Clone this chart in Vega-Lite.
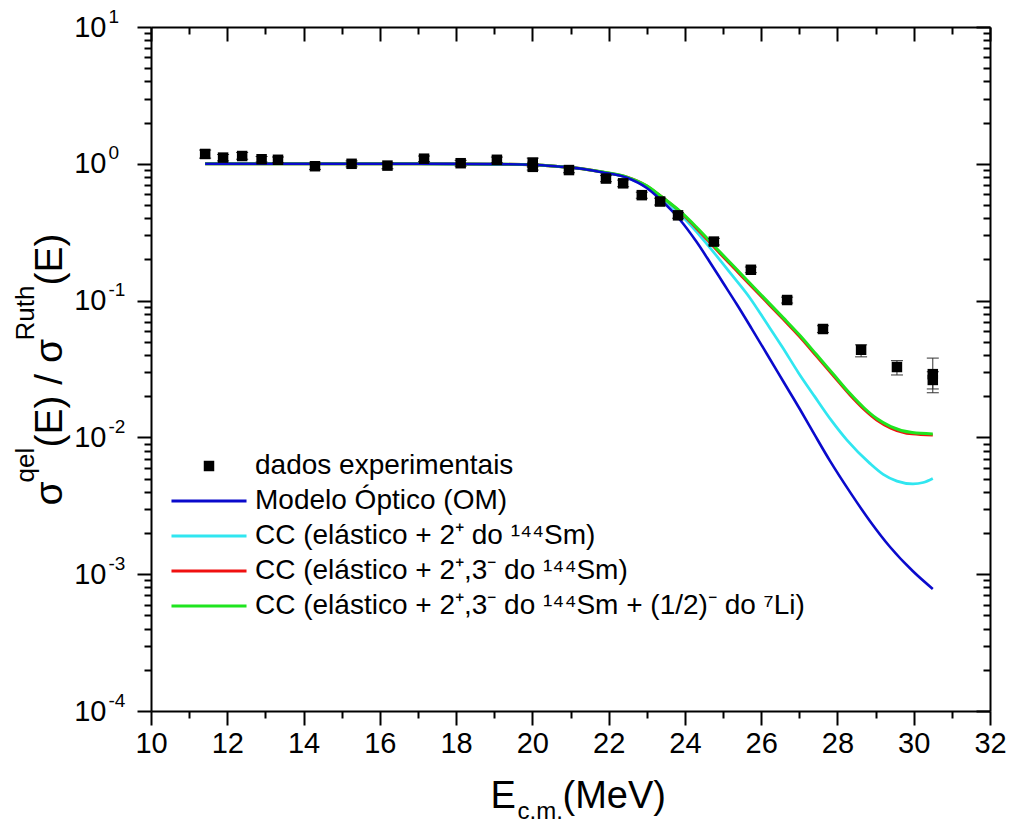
{
  "$schema": "https://vega.github.io/schema/vega-lite/v6.json",
  "width": 839,
  "height": 684,
  "autosize": {"type": "none"},
  "padding": {"left": 151, "top": 27, "right": 23, "bottom": 114},
  "background": "white",
  "config": {
    "view": {"stroke": null},
    "font": "Liberation Sans",
    "axis": {
      "grid": false,
      "domainColor": "black",
      "domainWidth": 2,
      "tickColor": "black",
      "tickWidth": 2,
      "labelFont": "Liberation Sans",
      "labelColor": "black",
      "labelFlush": false,
      "labelOverlap": false,
      "labelBound": false,
      "titleFont": "Liberation Sans",
      "titleFontWeight": "normal",
      "titleColor": "black"
    }
  },
  "datasets": {
    "curves": [
      {"series": "CC2", "E": 11.42, "v": 1.0},
      {"series": "CC2", "E": 13, "v": 1.0},
      {"series": "CC2", "E": 15, "v": 1.0},
      {"series": "CC2", "E": 17, "v": 1.0},
      {"series": "CC2", "E": 18, "v": 0.998},
      {"series": "CC2", "E": 19, "v": 0.994},
      {"series": "CC2", "E": 20, "v": 0.985},
      {"series": "CC2", "E": 20.7, "v": 0.955},
      {"series": "CC2", "E": 21.3, "v": 0.92},
      {"series": "CC2", "E": 21.85, "v": 0.868},
      {"series": "CC2", "E": 22.48, "v": 0.795},
      {"series": "CC2", "E": 23.0, "v": 0.675},
      {"series": "CC2", "E": 23.35, "v": 0.575},
      {"series": "CC2", "E": 23.87, "v": 0.43},
      {"series": "CC2", "E": 24.3, "v": 0.32},
      {"series": "CC2", "E": 24.66, "v": 0.243},
      {"series": "CC2", "E": 25.23, "v": 0.154},
      {"series": "CC2", "E": 25.7, "v": 0.105},
      {"series": "CC2", "E": 26.12, "v": 0.07},
      {"series": "CC2", "E": 26.55, "v": 0.046},
      {"series": "CC2", "E": 26.98, "v": 0.0296},
      {"series": "CC2", "E": 27.4, "v": 0.01995},
      {"series": "CC2", "E": 27.85, "v": 0.0132},
      {"series": "CC2", "E": 28.25, "v": 0.00955},
      {"series": "CC2", "E": 28.85, "v": 0.00646},
      {"series": "CC2", "E": 29.2, "v": 0.00537},
      {"series": "CC2", "E": 29.56, "v": 0.00479},
      {"series": "CC2", "E": 29.98, "v": 0.00457},
      {"series": "CC2", "E": 30.25, "v": 0.00468},
      {"series": "CC2", "E": 30.5, "v": 0.00501},

      {"series": "CC23", "E": 11.42, "v": 1.0},
      {"series": "CC23", "E": 13, "v": 1.0},
      {"series": "CC23", "E": 15, "v": 1.0},
      {"series": "CC23", "E": 17, "v": 1.0},
      {"series": "CC23", "E": 18, "v": 0.998},
      {"series": "CC23", "E": 19, "v": 0.994},
      {"series": "CC23", "E": 20, "v": 0.985},
      {"series": "CC23", "E": 20.7, "v": 0.955},
      {"series": "CC23", "E": 21.3, "v": 0.92},
      {"series": "CC23", "E": 21.85, "v": 0.87},
      {"series": "CC23", "E": 22.48, "v": 0.8},
      {"series": "CC23", "E": 23.0, "v": 0.69},
      {"series": "CC23", "E": 23.35, "v": 0.585},
      {"series": "CC23", "E": 23.87, "v": 0.447},
      {"series": "CC23", "E": 24.3, "v": 0.338},
      {"series": "CC23", "E": 24.92, "v": 0.221},
      {"series": "CC23", "E": 25.3, "v": 0.1715},
      {"series": "CC23", "E": 25.7, "v": 0.131},
      {"series": "CC23", "E": 26.1, "v": 0.1004},
      {"series": "CC23", "E": 26.58, "v": 0.0729},
      {"series": "CC23", "E": 27.0, "v": 0.0548},
      {"series": "CC23", "E": 27.45, "v": 0.0393},
      {"series": "CC23", "E": 27.9, "v": 0.0281},
      {"series": "CC23", "E": 28.33, "v": 0.0204},
      {"series": "CC23", "E": 28.7, "v": 0.016},
      {"series": "CC23", "E": 29.03, "v": 0.0134},
      {"series": "CC23", "E": 29.4, "v": 0.0117},
      {"series": "CC23", "E": 29.96, "v": 0.0106},
      {"series": "CC23", "E": 30.5, "v": 0.0104},

      {"series": "CC23Li", "E": 11.42, "v": 1.0},
      {"series": "CC23Li", "E": 13, "v": 1.0},
      {"series": "CC23Li", "E": 15, "v": 1.0},
      {"series": "CC23Li", "E": 17, "v": 1.0},
      {"series": "CC23Li", "E": 18, "v": 0.998},
      {"series": "CC23Li", "E": 19, "v": 0.994},
      {"series": "CC23Li", "E": 20, "v": 0.985},
      {"series": "CC23Li", "E": 20.7, "v": 0.955},
      {"series": "CC23Li", "E": 21.3, "v": 0.92},
      {"series": "CC23Li", "E": 21.85, "v": 0.87},
      {"series": "CC23Li", "E": 22.48, "v": 0.8},
      {"series": "CC23Li", "E": 23.0, "v": 0.69},
      {"series": "CC23Li", "E": 23.35, "v": 0.585},
      {"series": "CC23Li", "E": 23.87, "v": 0.45},
      {"series": "CC23Li", "E": 24.3, "v": 0.345},
      {"series": "CC23Li", "E": 24.92, "v": 0.2265},
      {"series": "CC23Li", "E": 25.3, "v": 0.176},
      {"series": "CC23Li", "E": 25.7, "v": 0.1346},
      {"series": "CC23Li", "E": 26.1, "v": 0.103},
      {"series": "CC23Li", "E": 26.58, "v": 0.0748},
      {"series": "CC23Li", "E": 27.0, "v": 0.0562},
      {"series": "CC23Li", "E": 27.45, "v": 0.0403},
      {"series": "CC23Li", "E": 27.9, "v": 0.0288},
      {"series": "CC23Li", "E": 28.33, "v": 0.0209},
      {"series": "CC23Li", "E": 28.7, "v": 0.0164},
      {"series": "CC23Li", "E": 29.03, "v": 0.01374},
      {"series": "CC23Li", "E": 29.4, "v": 0.012},
      {"series": "CC23Li", "E": 29.96, "v": 0.01084},
      {"series": "CC23Li", "E": 30.5, "v": 0.0106},

      {"series": "OM", "E": 11.42, "v": 1.0},
      {"series": "OM", "E": 13, "v": 1.0},
      {"series": "OM", "E": 15, "v": 1.0},
      {"series": "OM", "E": 17, "v": 1.0},
      {"series": "OM", "E": 18, "v": 0.998},
      {"series": "OM", "E": 19, "v": 0.994},
      {"series": "OM", "E": 20, "v": 0.985},
      {"series": "OM", "E": 20.7, "v": 0.955},
      {"series": "OM", "E": 21.3, "v": 0.92},
      {"series": "OM", "E": 21.85, "v": 0.865},
      {"series": "OM", "E": 22.48, "v": 0.79},
      {"series": "OM", "E": 23.0, "v": 0.665},
      {"series": "OM", "E": 23.35, "v": 0.55},
      {"series": "OM", "E": 23.87, "v": 0.39},
      {"series": "OM", "E": 24.3, "v": 0.27},
      {"series": "OM", "E": 24.66, "v": 0.19},
      {"series": "OM", "E": 25.0, "v": 0.135},
      {"series": "OM", "E": 25.36, "v": 0.094},
      {"series": "OM", "E": 25.75, "v": 0.0624},
      {"series": "OM", "E": 26.15, "v": 0.0407},
      {"series": "OM", "E": 26.6, "v": 0.0251},
      {"series": "OM", "E": 27.02, "v": 0.016},
      {"series": "OM", "E": 27.4, "v": 0.01047},
      {"series": "OM", "E": 27.8, "v": 0.00676},
      {"series": "OM", "E": 28.33, "v": 0.00398},
      {"series": "OM", "E": 28.85, "v": 0.00245},
      {"series": "OM", "E": 29.38, "v": 0.00158},
      {"series": "OM", "E": 29.98, "v": 0.00105},
      {"series": "OM", "E": 30.5, "v": 0.00078}
    ],
    "points": [
      {"E": 11.42, "v": 1.18, "lo": 1.1, "hi": 1.26},
      {"E": 11.89, "v": 1.11, "lo": 1.05, "hi": 1.17},
      {"E": 12.39, "v": 1.14, "lo": 1.08, "hi": 1.21},
      {"E": 12.9, "v": 1.08, "lo": 1.03, "hi": 1.13},
      {"E": 13.33, "v": 1.07, "lo": 1.02, "hi": 1.12},
      {"E": 14.3, "v": 0.96, "lo": 0.91, "hi": 1.01},
      {"E": 15.26, "v": 1.0, "lo": 0.95, "hi": 1.05},
      {"E": 16.2, "v": 0.97, "lo": 0.92, "hi": 1.02},
      {"E": 17.16, "v": 1.09, "lo": 1.04, "hi": 1.14},
      {"E": 18.12, "v": 1.01, "lo": 0.96, "hi": 1.06},
      {"E": 19.07, "v": 1.07, "lo": 1.02, "hi": 1.12},
      {"E": 20.01, "v": 1.02, "lo": 0.95, "hi": 1.1},
      {"E": 20.01, "v": 0.95, "lo": 0.9, "hi": 1.0},
      {"E": 20.96, "v": 0.9, "lo": 0.86, "hi": 0.94},
      {"E": 21.93, "v": 0.78, "lo": 0.74, "hi": 0.82},
      {"E": 22.38, "v": 0.72, "lo": 0.68, "hi": 0.76},
      {"E": 22.87, "v": 0.59, "lo": 0.56, "hi": 0.62},
      {"E": 23.35, "v": 0.53, "lo": 0.5, "hi": 0.56},
      {"E": 23.82, "v": 0.42, "lo": 0.4, "hi": 0.44},
      {"E": 24.76, "v": 0.27, "lo": 0.255, "hi": 0.285},
      {"E": 25.73, "v": 0.168, "lo": 0.16, "hi": 0.176},
      {"E": 26.68, "v": 0.101, "lo": 0.096, "hi": 0.106},
      {"E": 27.62, "v": 0.062, "lo": 0.0585, "hi": 0.0655},
      {"E": 28.62, "v": 0.0437, "lo": 0.0388, "hi": 0.0475},
      {"E": 29.56, "v": 0.0327, "lo": 0.0286, "hi": 0.0364},
      {"E": 30.5, "v": 0.029, "lo": 0.0212, "hi": 0.038},
      {"E": 30.5, "v": 0.0263, "lo": 0.0226, "hi": 0.0302}
    ]
  },
  "resolve": {"axis": {"x": "independent", "y": "independent"}},
  "layer": [
    {
      "data": {"name": "curves"},
      "mark": {"type": "line", "interpolate": "monotone"},
      "encoding": {
        "x": {
          "field": "E", "type": "quantitative",
          "scale": {"type": "linear", "domain": [10, 32], "nice": false, "zero": false},
          "axis": {
            "orient": "bottom",
            "values": [10, 12, 14, 16, 18, 20, 22, 24, 26, 28, 30, 32],
            "tickSize": 14,
            "labelFontSize": 29,
            "labelPadding": 4,
            "title": "E",
            "titleFontSize": 38,
            "titleAlign": "left",
            "titleBaseline": "alphabetic",
            "titleAngle": 0,
            "titleX": 339,
            "titleY": 96
          }
        },
        "y": {
          "field": "v", "type": "quantitative",
          "scale": {"type": "log", "domain": [0.0001, 10], "nice": false},
          "axis": {
            "orient": "left",
            "values": [0.0001, 0.001, 0.01, 0.1, 1, 10],
            "tickSize": 14,
            "labelExpr": "'10'",
            "labelFontSize": 29,
            "labelAlign": "right",
            "labelBaseline": "middle",
            "labelPadding": 31,
            "title": "σ",
            "titleFontSize": 39,
            "titleAngle": 270,
            "titleAlign": "left",
            "titleBaseline": "alphabetic",
            "titleX": -90,
            "titleY": 478
          }
        },
        "color": {
          "field": "series", "type": "nominal",
          "scale": {
            "domain": ["exp", "OM", "CC2", "CC23", "CC23Li"],
            "range": ["#000000", "#0A0ACC", "#30E6F0", "#F01010", "#1FE51F"]
          },
          "legend": {
            "orient": "none",
            "legendX": 44,
            "legendY": 425,
            "title": null,
            "padding": 0,
            "labelFont": "Liberation Sans",
            "labelFontSize": 28,
            "labelColor": "black",
            "labelOffset": 32,
            "labelLimit": 0,
            "rowPadding": 7,
            "symbolSize": 784,
            "symbolStrokeWidth": 3,
            "labelExpr": "datum.value == 'exp' ? 'dados experimentais' : datum.value == 'OM' ? 'Modelo Óptico (OM)' : datum.value == 'CC2' ? 'CC (elástico + 2⁺ do ¹⁴⁴Sm)' : datum.value == 'CC23' ? 'CC (elástico + 2⁺,3⁻ do ¹⁴⁴Sm)' : 'CC (elástico + 2⁺,3⁻ do ¹⁴⁴Sm + (1/2)⁻ do ⁷Li)'",
            "encode": {
              "symbols": {
                "update": {
                  "shape": {"signal": "datum.value == 'exp' ? 'square' : 'M-2.68,0H2.68'"},
                  "size": {"signal": "datum.value == 'exp' ? 110 : 784"},
                  "fill": {"signal": "datum.value == 'exp' ? 'black' : 'transparent'"},
                  "strokeWidth": {"signal": "datum.value == 'exp' ? 0 : 3"},
                  "opacity": {"value": 1}
                }
              }
            }
          }
        },
        "strokeWidth": {
          "field": "series", "type": "ordinal",
          "scale": {"domain": ["OM", "CC2", "CC23", "CC23Li"], "range": [2.6, 3, 2, 3.5]},
          "legend": null
        }
      }
    },
    {
      "data": {"name": "points"},
      "mark": {"type": "rule", "color": "#333333", "strokeWidth": 1},
      "encoding": {
        "x": {
          "field": "E", "type": "quantitative",
          "scale": {"type": "linear", "domain": [10, 32], "nice": false, "zero": false},
          "axis": {
            "orient": "bottom",
            "values": [11, 13, 15, 17, 19, 21, 23, 25, 27, 29, 31],
            "tickSize": 7,
            "labels": false,
            "domain": false,
            "title": "c.m.",
            "titleFontSize": 24,
            "titleAlign": "left",
            "titleBaseline": "alphabetic",
            "titleAngle": 0,
            "titleX": 366,
            "titleY": 107
          }
        },
        "y": {
          "field": "lo", "type": "quantitative",
          "scale": {"type": "log", "domain": [0.0001, 10], "nice": false},
          "axis": {
            "orient": "left",
            "values": [0.0002, 0.0003, 0.0004, 0.0005, 0.0006, 0.0007, 0.0008, 0.0009, 0.002, 0.003, 0.004, 0.005, 0.006, 0.007, 0.008, 0.009, 0.02, 0.03, 0.04, 0.05, 0.06, 0.07, 0.08, 0.09, 0.2, 0.3, 0.4, 0.5, 0.6, 0.7, 0.8, 0.9, 2, 3, 4, 5, 6, 7, 8, 9],
            "tickSize": 7,
            "labels": false,
            "domain": false,
            "title": "qel",
            "titleFontSize": 26,
            "titleAngle": 270,
            "titleAlign": "left",
            "titleBaseline": "alphabetic",
            "titleX": -118,
            "titleY": 455
          }
        },
        "y2": {"field": "hi"}
      }
    },
    {
      "data": {"name": "points"},
      "mark": {"type": "tick", "orient": "horizontal", "color": "#333333", "size": 12, "thickness": 1, "opacity": 1},
      "encoding": {
        "x": {
          "field": "E", "type": "quantitative",
          "scale": {"type": "linear", "domain": [10, 32], "nice": false, "zero": false},
          "axis": {
            "orient": "bottom",
            "offset": -684,
            "values": [10, 12, 14, 16, 18, 20, 22, 24, 26, 28, 30, 32],
            "tickSize": 14,
            "labels": false,
            "title": "(MeV)",
            "titleFontSize": 38,
            "titleAlign": "left",
            "titleBaseline": "alphabetic",
            "titleAngle": 0,
            "titleX": 411,
            "titleY": 780
          }
        },
        "y": {
          "field": "hi", "type": "quantitative",
          "scale": {"type": "log", "domain": [0.0001, 10], "nice": false},
          "axis": {
            "orient": "left",
            "offset": -839,
            "values": [0.0001, 0.001, 0.01, 0.1, 1, 10],
            "tickSize": 14,
            "labelExpr": "datum.value >= 5 ? '1' : datum.value >= 0.5 ? '0' : datum.value >= 0.05 ? '-1' : datum.value >= 0.005 ? '-2' : datum.value >= 0.0005 ? '-3' : '-4'",
            "labelFontSize": 19,
            "labelAlign": "left",
            "labelBaseline": "middle",
            "labelPadding": 868,
            "labelOffset": -11,
            "title": "Ruth",
            "titleFontSize": 26,
            "titleAngle": 270,
            "titleAlign": "left",
            "titleBaseline": "alphabetic",
            "titleX": -957,
            "titleY": 313
          }
        }
      }
    },
    {
      "data": {"name": "points"},
      "mark": {"type": "tick", "orient": "horizontal", "color": "#333333", "size": 12, "thickness": 1, "opacity": 1},
      "encoding": {
        "x": {
          "field": "E", "type": "quantitative",
          "scale": {"type": "linear", "domain": [10, 32], "nice": false, "zero": false},
          "axis": {
            "orient": "bottom",
            "offset": -684,
            "values": [11, 13, 15, 17, 19, 21, 23, 25, 27, 29, 31],
            "tickSize": 7,
            "labels": false,
            "domain": false,
            "title": null
          }
        },
        "y": {
          "field": "lo", "type": "quantitative",
          "scale": {"type": "log", "domain": [0.0001, 10], "nice": false},
          "axis": {
            "orient": "left",
            "offset": -839,
            "values": [0.0002, 0.0003, 0.0004, 0.0005, 0.0006, 0.0007, 0.0008, 0.0009, 0.002, 0.003, 0.004, 0.005, 0.006, 0.007, 0.008, 0.009, 0.02, 0.03, 0.04, 0.05, 0.06, 0.07, 0.08, 0.09, 0.2, 0.3, 0.4, 0.5, 0.6, 0.7, 0.8, 0.9, 2, 3, 4, 5, 6, 7, 8, 9],
            "tickSize": 7,
            "labels": false,
            "domain": false,
            "title": "(E) / σ",
            "titleFontSize": 39,
            "titleAngle": 270,
            "titleAlign": "left",
            "titleBaseline": "alphabetic",
            "titleX": -929,
            "titleY": 420
          }
        }
      }
    },
    {
      "data": {"name": "points"},
      "mark": {"type": "square", "size": 110, "color": "black", "opacity": 1},
      "encoding": {
        "x": {
          "field": "E", "type": "quantitative",
          "scale": {"type": "linear", "domain": [10, 32], "nice": false, "zero": false},
          "axis": null
        },
        "y": {
          "field": "v", "type": "quantitative",
          "scale": {"type": "log", "domain": [0.0001, 10], "nice": false},
          "axis": {
            "orient": "left",
            "ticks": false,
            "labels": false,
            "domain": false,
            "title": "(E)",
            "titleFontSize": 39,
            "titleAngle": 270,
            "titleAlign": "left",
            "titleBaseline": "alphabetic",
            "titleX": -90,
            "titleY": 258
          }
        }
      }
    }
  ]
}
